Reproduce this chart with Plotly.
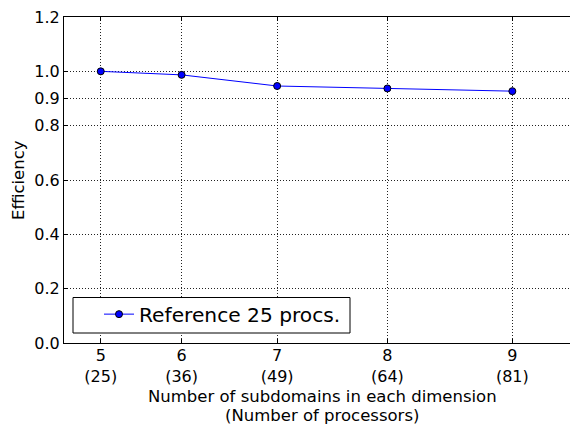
import plotly.graph_objects as go

subdomains = [5, 6, 7, 8, 9]
processors = [25, 36, 49, 64, 81]
efficiency = [1.0, 0.987, 0.946, 0.937, 0.927]
y_ticks = [0.0, 0.2, 0.4, 0.6, 0.8, 0.9, 1.0, 1.2]
series_name = "Reference 25 procs."
x_title_lines = ["Number of subdomains in each dimension", "(Number of processors)"]

font = "DejaVu Sans, sans-serif"
L, T, B = 64, 17, 82
W_PLOT, H_PLOT = 570 - L, 425 - T - B


def py(pix):
    """pixel row -> paper y"""
    return (425 - B - pix) / H_PLOT


def px(pix):
    return (pix - L) / W_PLOT


fig = go.Figure()
fig.add_trace(go.Scatter(
    x=processors, y=efficiency, mode="lines+markers",
    name=series_name,
    line=dict(color="#0000ff", width=1),
    marker=dict(color="#0000ff", size=7, line=dict(color="black", width=1)),
))

annotations = [
    dict(text=x_title_lines[0], xref="paper", yref="paper", x=px(322), y=py(396),
         xanchor="center", yanchor="middle", showarrow=False,
         font=dict(size=16.5, family=font)),
    dict(text=x_title_lines[1], xref="paper", yref="paper", x=px(322), y=py(415),
         xanchor="center", yanchor="middle", showarrow=False,
         font=dict(size=16.5, family=font)),
    dict(text="Efficiency", xref="paper", yref="paper",
         x=px(18), y=0.5, textangle=-90,
         xanchor="center", yanchor="middle", showarrow=False,
         font=dict(size=16.5, family=font)),
]

fig.update_layout(
    width=570, height=425,
    margin=dict(l=L, r=0, t=T, b=B, autoexpand=False),
    paper_bgcolor="white", plot_bgcolor="white",
    font=dict(family=font, color="black", size=16),
    showlegend=True,
    legend=dict(x=px(99), y=py(294.5), xanchor="left", yanchor="top",
                bgcolor="rgba(0,0,0,0)", borderwidth=0,
                font=dict(size=20.2, family=font), itemwidth=30),
    xaxis=dict(
        range=[20, 20 + W_PLOT / 7.35],
        tickvals=processors,
        ticktext=[f"{s}<br>({p})" for s, p in zip(subdomains, processors)],
        showline=True, linecolor="black", linewidth=1, mirror="ticks",
        ticks="inside", ticklen=4, tickcolor="black",
        showgrid=True, gridcolor="#222", griddash="1px,2px", gridwidth=1,
        zeroline=False, automargin=False, ticklabelstandoff=-2,
        tickfont=dict(size=16),
    ),
    yaxis=dict(
        range=[0, 1.2],
        tickvals=y_ticks, ticktext=[f"{v:.1f}" for v in y_ticks],
        showline=True, linecolor="black", linewidth=1, mirror=False,
        ticks="inside", ticklen=4, tickcolor="black",
        showgrid=True, gridcolor="#222", griddash="1px,2px", gridwidth=1,
        zeroline=False, automargin=False,
        tickfont=dict(size=16),
    ),
    annotations=annotations,
    shapes=[dict(type="rect", xref="paper", yref="paper",
                 x0=px(73), x1=px(350), y0=py(333), y1=py(297.5),
                 fillcolor="white", line=dict(color="black", width=1),
                 layer="above")],
)

fig.write_html("out.html", config={"displayModeBar": False},
               post_script="document.body.style.margin='0px';document.body.style.overflow='hidden';")
